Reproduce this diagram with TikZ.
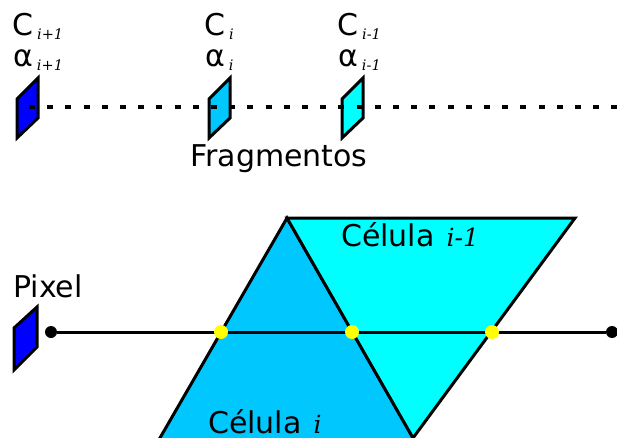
\documentclass[tikz,border=0pt]{standalone}
\usepackage{fontspec}
\setmainfont{DejaVu Sans}
\newfontfamily\idxfont{DejaVu Serif}
\usetikzlibrary{positioning}
\definecolor{fragA}{RGB}{0,0,255}
\definecolor{fragB}{RGB}{0,200,255}
\definecolor{fragC}{RGB}{0,255,255}
\definecolor{hit}{RGB}{255,255,0}
\newcommand{\fragidx}[1]{\hspace{4pt}\raisebox{-4pt}{\fontsize{14.5}{16}\selectfont\idxfont\itshape #1}}
\newcommand{\celidx}[1]{\hspace{12pt}{\fontsize{25}{26}\selectfont\idxfont\itshape #1}}
\tikzset{
  frag/.style={draw=black,line width=3pt},
  cell/.style={draw=black,line width=3pt},
  txt/.style={anchor=base west,inner sep=0pt},
  enddot/.style={circle,fill=black,inner sep=0pt,minimum size=12pt},
  hitdot/.style={circle,fill=hit,inner sep=0pt,minimum size=14pt},
}

\begin{document}
\begin{tikzpicture}[x=1pt,y=-1pt,font=\fontsize{30}{36}\selectfont]
  \useasboundingbox (0,0) rectangle (617,438);
  \clip (0,0) rectangle (617,438);
  % fragmentos
  \foreach \x/\c/\i/\n in {17/fragA/{i+1}/a, 209/fragB/i/b, 342/fragC/{i-1}/c} {
    \draw[frag,fill=\c] (\x,138) -- ++(0,-39) -- ++(21,-21) -- ++(0,40) -- cycle;
    \node[txt] (cor\n) at (\x-5,36) {C\fragidx{\i}};
    \node[txt] (alfa\n) at (\x-4,67) {α\fragidx{\i}};
  }
  \coordinate (d0) at (29,107);
  \coordinate (d1) at (617,107);
  \draw[line width=3.3pt,dash pattern=on 6pt off 12.2pt] (d0) -- (d1);
  \node[txt] (frags) at (190,167) {Fragmentos};
  % celulas
  \draw[cell,fill=fragB] (287,218) -- (153,450) -- (420,450) -- cycle;
  \draw[cell,fill=fragC] (287,218) -- (575,218) -- (413,438) -- cycle;
  \node[txt] (celB) at (341,246) {Célula\celidx{i-1}};
  \node[txt] (celA) at (208,433) {Célula\celidx{i}};
  % pixel e raio
  \draw[frag,fill=fragA] (14,370) -- (14,328) -- (37,307) -- (37,347) -- cycle;
  \node[txt] (pixel) at (13,297) {Pixel};
  \node[enddot] (r0) at (51,332) {};
  \node[enddot] (r1) at (612,332) {};
  \draw[line width=3pt] (r0) -- (r1);
  \foreach \x/\n in {221/1, 352/2, 492/3}
    \node[hitdot] (h\n) at (\x,332) {};
\end{tikzpicture}
\end{document}
